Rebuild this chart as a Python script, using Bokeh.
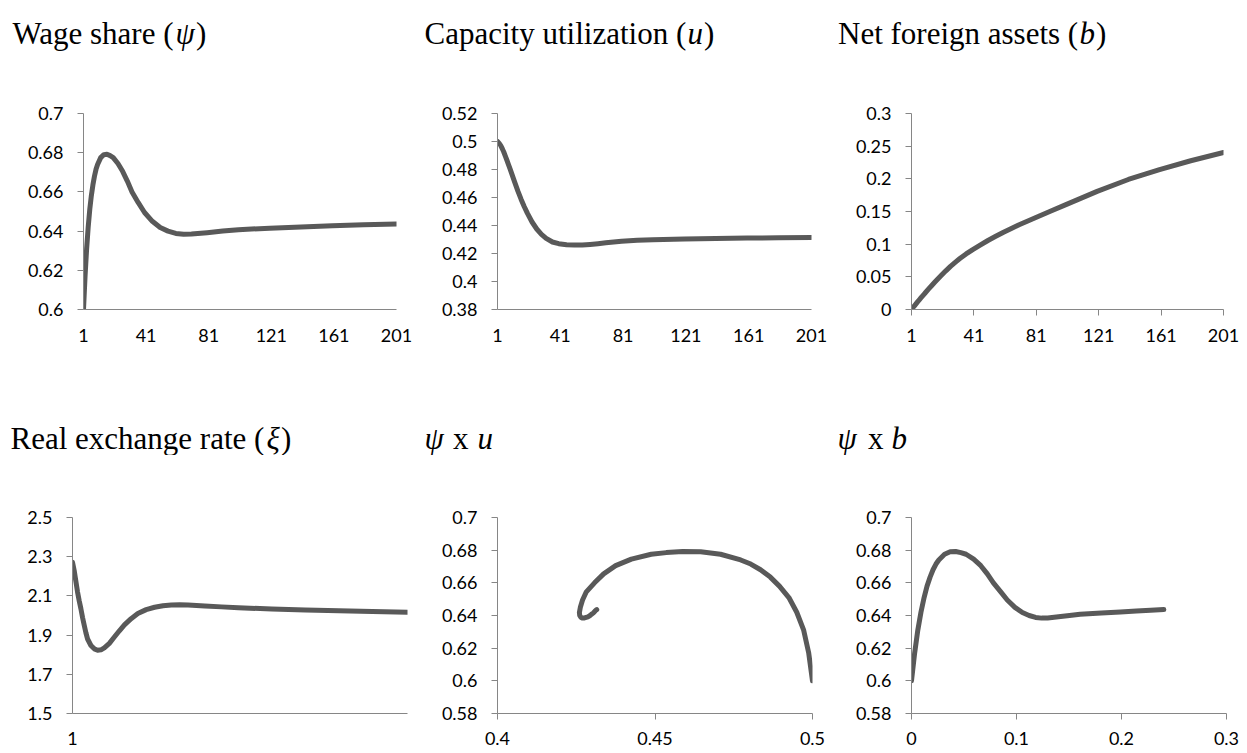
from bokeh.plotting import figure
from bokeh.layouts import row, column
from bokeh.models import Range1d, FixedTicker, ColumnDataSource
from bokeh.core.properties import value
from bokeh.embed import file_html
from bokeh.resources import INLINE

# ---- data ----
T = [1, 2, 3, 4, 5, 6, 7, 8, 9, 10, 12, 14, 16, 18, 20, 23, 26, 29, 32, 36, 40, 45,
     50, 55, 60, 65, 70, 80, 90, 100, 120, 140, 160, 180, 201]
PSI = [0.600, 0.617, 0.631, 0.642, 0.651, 0.658, 0.6635, 0.668, 0.6715, 0.674,
       0.6775, 0.679, 0.6792, 0.6785, 0.6775, 0.6745, 0.6705, 0.6655, 0.6600,
       0.6545, 0.6495, 0.6450, 0.6418, 0.6400, 0.6388, 0.6384, 0.6385, 0.6392,
       0.6400, 0.6407, 0.6415, 0.6421, 0.6427, 0.6432, 0.6436]
U = [0.5000, 0.4988, 0.4972, 0.4950, 0.4925, 0.4895, 0.4866, 0.4835, 0.4804,
     0.4772, 0.4708, 0.4645, 0.4588, 0.4536, 0.4488, 0.4425, 0.4375, 0.4337,
     0.4308, 0.4282, 0.4270, 0.4263, 0.4260, 0.4261, 0.4265, 0.4270, 0.4276,
     0.4287, 0.4294, 0.4298, 0.4304, 0.4307, 0.4310, 0.4312, 0.4315]
B = [0.000, 0.003, 0.006, 0.009, 0.012, 0.0148, 0.0177, 0.0205, 0.0233, 0.026,
     0.0315, 0.0368, 0.042, 0.047, 0.052, 0.0592, 0.066, 0.0722, 0.078, 0.085,
     0.0912, 0.0985, 0.1056, 0.112, 0.1182, 0.124, 0.1297, 0.140, 0.1505,
     0.1605, 0.1808, 0.1990, 0.2142, 0.2277, 0.2403]
XI = [2.272, 2.230, 2.175, 2.120, 2.075, 2.035, 1.990, 1.950, 1.912, 1.880,
      1.847, 1.830, 1.823, 1.825, 1.835, 1.858, 1.890, 1.922, 1.952, 1.984,
      2.010, 2.030, 2.042, 2.050, 2.054, 2.055, 2.054, 2.049, 2.044, 2.040,
      2.033, 2.028, 2.024, 2.020, 2.017]

TIME_TICKS = [1, 41, 81, 121, 161, 201]
XI_TIME_TICKS = [1]
PSI_TICKS = [0.6, 0.62, 0.64, 0.66, 0.68, 0.7]
U_TICKS = [0.38, 0.4, 0.42, 0.44, 0.46, 0.48, 0.5, 0.52]
B_TICKS = [0, 0.05, 0.1, 0.15, 0.2, 0.25, 0.3]
XI_TICKS = [1.5, 1.7, 1.9, 2.1, 2.3, 2.5]
PSI2_TICKS = [0.58, 0.6, 0.62, 0.64, 0.66, 0.68, 0.7]
UX_TICKS = [0.4, 0.45, 0.5]
BX_TICKS = [0, 0.1, 0.2, 0.3]

# titles: (text, style, left position within the title strip)
TITLES = [
    [("Wage share (", "normal", 12), ("\u03c8", "italic", 175), (")", "normal", 195.5)],
    [("Capacity utilization (", "normal", 2), ("u", "italic", 265), (")", "normal", 281.5)],
    [("Net foreign assets (", "normal", 5.5), ("b", "italic", 247), (")", "normal", 263.5)],
    [("Real exchange rate (", "normal", 10), ("\u03be", "italic", 266), (")", "normal", 280.5)],
    [("\u03c8", "italic", 2), ("x", "normal", 30.5), ("u", "italic", 55)],
    [("\u03c8", "italic", 5), ("x", "normal", 35.5), ("b", "italic", 59)],
]

src = ColumnDataSource(dict(t=T, psi=PSI, u=U, b=B, xi=XI))

AXIS_COLOR = "#868686"
LINE_COLOR = "#595959"
TICK_FONT = "Lato"
TICK_SIZE = "18px"
TITLE_FONT = "Liberation Serif"

COL_W = [422, 410, 414]
TITLE_H = [60, 85]
TITLE_BASE = [33, 68]


def fmt(v):
    return "{:g}".format(v)


def make_title(width, height, baseline, segments):
    p = figure(width=width, height=height, output_backend="svg",
               toolbar_location=None, x_axis_type=None, y_axis_type=None,
               x_range=Range1d(0, width), y_range=Range1d(height, 0),
               min_border=0, min_border_left=0, min_border_right=0,
               min_border_top=0, min_border_bottom=0)
    p.outline_line_color = None
    p.grid.visible = False
    for text, style, x in segments:
        p.text(x=[x], y=[baseline], text=[text], text_font=value(TITLE_FONT),
               text_font_size=value("31px"), text_font_style=value(style),
               text_color="black", text_baseline=value("alphabetic"),
               text_align=value("left"))
    return p


def make_panel(width, height, bl, br, bt, bb, xr, yr, xticks, yticks,
               xtick_out, xstandoff, xcol, ycol):
    p = figure(width=width, height=height, output_backend="svg",
               toolbar_location=None, x_range=Range1d(*xr), y_range=Range1d(*yr),
               min_border_left=bl, min_border_right=br,
               min_border_top=bt, min_border_bottom=bb)
    p.outline_line_color = None
    p.xgrid.visible = False
    p.ygrid.visible = False
    p.background_fill_color = "white"
    p.border_fill_color = "white"

    xa = p.xaxis[0]
    xa.ticker = FixedTicker(ticks=xticks)
    xa.major_label_overrides = {v: fmt(v) for v in xticks}
    xa.axis_line_color = AXIS_COLOR
    xa.major_tick_line_color = AXIS_COLOR
    xa.minor_tick_line_color = None
    xa.major_tick_in = 0
    xa.major_tick_out = xtick_out
    xa.major_label_standoff = xstandoff
    xa.major_label_text_font = TICK_FONT
    xa.major_label_text_font_size = TICK_SIZE
    xa.major_label_text_color = "black"

    ya = p.yaxis[0]
    ya.ticker = FixedTicker(ticks=yticks)
    ya.major_label_overrides = {v: fmt(v) for v in yticks}
    ya.axis_line_color = AXIS_COLOR
    ya.major_tick_line_color = AXIS_COLOR
    ya.minor_tick_line_color = None
    ya.major_tick_in = 0
    ya.major_tick_out = 6
    ya.major_label_standoff = 14
    ya.major_label_text_font = TICK_FONT
    ya.major_label_text_font_size = TICK_SIZE
    ya.major_label_text_color = "black"

    p.line(x=xcol, y=ycol, source=src, line_color=LINE_COLOR, line_width=5,
           line_cap="round", line_join="round")
    return p


H1 = 370 - TITLE_H[0]
H2 = 753 - 370 - TITLE_H[1]
BT1 = 113 - TITLE_H[0]
BT2 = 517 - 370 - TITLE_H[1]
BB1 = H1 - BT1 - 196
BB2 = H2 - BT2 - 196

titles = [make_title(COL_W[i % 3], TITLE_H[i // 3], TITLE_BASE[i // 3], TITLES[i])
          for i in range(6)]

p1 = make_panel(COL_W[0], H1, 83, 26, BT1, BB1, (1, 201), (0.6, 0.7), TIME_TICKS, PSI_TICKS,
                0, 19, "t", "psi")
p2 = make_panel(COL_W[1], H1, 75, 21, BT1, BB1, (1, 201), (0.38, 0.52), TIME_TICKS, U_TICKS,
                0, 19, "t", "u")
p3 = make_panel(COL_W[2], H1, 79, 23, BT1, BB1, (1, 201), (0, 0.3), TIME_TICKS, B_TICKS,
                6, 13, "t", "b")
p4 = make_panel(COL_W[0], H2, 72, 15, BT2, BB2, (1, 201), (1.5, 2.5), XI_TIME_TICKS, XI_TICKS,
                0, 18, "t", "xi")
p5 = make_panel(COL_W[1], H2, 75, 20, BT2, BB2, (0.4, 0.5), (0.58, 0.7), UX_TICKS, PSI2_TICKS,
                6, 12, "u", "psi")
p6 = make_panel(COL_W[2], H2, 79, 20, BT2, BB2, (0, 0.3), (0.58, 0.7), BX_TICKS, PSI2_TICKS,
                6, 12, "b", "psi")

layout = column(row(*titles[0:3]), row(p1, p2, p3), row(*titles[3:6]), row(p4, p5, p6))

open("out.html", "w").write(file_html(layout, INLINE))
